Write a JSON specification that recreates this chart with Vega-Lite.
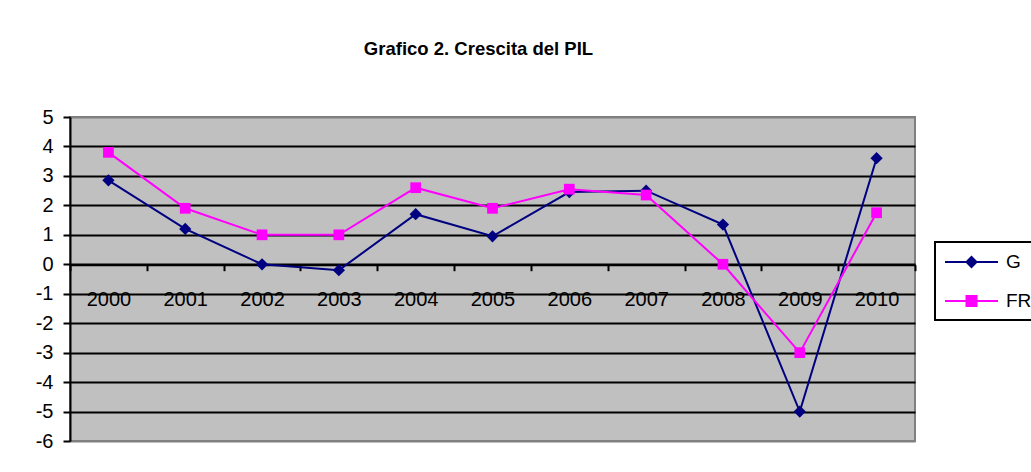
{
  "$schema": "https://vega.github.io/schema/vega-lite/v6.json",
  "autosize": "none",
  "width": 845,
  "height": 324,
  "padding": {"left": 70, "top": 117, "right": 116, "bottom": 31},
  "background": "white",
  "config": {
    "font": "Liberation Sans",
    "view": {"fill": "#C0C0C0", "stroke": "#808080", "strokeWidth": 2}
  },
  "title": {
    "text": "Grafico 2. Crescita del PIL",
    "font": "Liberation Sans",
    "fontSize": 18.5,
    "fontWeight": "bold",
    "color": "black",
    "anchor": "middle",
    "frame": "group",
    "dx": -14,
    "offset": 49
  },
  "data": {
    "values": [
      {"year": "2000", "series": "G", "value": 2.85},
      {"year": "2001", "series": "G", "value": 1.2},
      {"year": "2002", "series": "G", "value": 0.0},
      {"year": "2003", "series": "G", "value": -0.2},
      {"year": "2004", "series": "G", "value": 1.7},
      {"year": "2005", "series": "G", "value": 0.95},
      {"year": "2006", "series": "G", "value": 2.45},
      {"year": "2007", "series": "G", "value": 2.5},
      {"year": "2008", "series": "G", "value": 1.35},
      {"year": "2009", "series": "G", "value": -5.0},
      {"year": "2010", "series": "G", "value": 3.6},
      {"year": "2000", "series": "FR", "value": 3.8},
      {"year": "2001", "series": "FR", "value": 1.9},
      {"year": "2002", "series": "FR", "value": 1.0},
      {"year": "2003", "series": "FR", "value": 1.0},
      {"year": "2004", "series": "FR", "value": 2.6},
      {"year": "2005", "series": "FR", "value": 1.9},
      {"year": "2006", "series": "FR", "value": 2.55},
      {"year": "2007", "series": "FR", "value": 2.35},
      {"year": "2008", "series": "FR", "value": 0.0},
      {"year": "2009", "series": "FR", "value": -3.0},
      {"year": "2010", "series": "FR", "value": 1.75}
    ]
  },
  "encoding": {
    "x": {
      "field": "year",
      "type": "ordinal",
      "scale": {"type": "band", "paddingInner": 0, "paddingOuter": 0},
      "axis": {
        "title": null,
        "orient": "bottom",
        "offset": -176.3,
        "labelAngle": 0,
        "labelFontSize": 20,
        "labelColor": "black",
        "labelPadding": 19,
        "tickBand": "extent",
        "tickColor": "black",
        "tickSize": 6,
        "tickWidth": 2,
        "domainColor": "black",
        "domainWidth": 2,
        "grid": false
      }
    },
    "y": {
      "field": "value",
      "type": "quantitative",
      "scale": {"domain": [-6, 5], "nice": false, "zero": false},
      "axis": {
        "title": null,
        "values": [-6, -5, -4, -3, -2, -1, 0, 1, 2, 3, 4, 5],
        "labelExpr": "'' + datum.value",
        "labelFontSize": 20,
        "labelColor": "black",
        "labelPadding": 10,
        "tickColor": "black",
        "tickSize": 7,
        "tickWidth": 2,
        "domainColor": "black",
        "domainWidth": 2,
        "grid": true,
        "gridWidth": 2,
        "gridOpacity": 1,
        "gridColor": {
          "condition": {"test": "datum.value === 5 || datum.value === -6", "value": "#808080"},
          "value": "black"
        }
      }
    },
    "color": {
      "field": "series",
      "type": "nominal",
      "scale": {"domain": ["G", "FR"], "range": ["#000080", "#FF00FF"]},
      "legend": {
        "title": null,
        "orient": "none",
        "legendX": 865,
        "legendY": 125,
        "padding": 9,
        "strokeColor": "black",
        "fillColor": "white",
        "labelFont": "Liberation Sans",
        "labelFontSize": 19,
        "labelColor": "black",
        "labelOffset": 40,
        "symbolSize": 400,
        "symbolStrokeWidth": 2,
        "symbolOpacity": 1,
        "rowPadding": 18,
        "encode": {
          "legend": {
            "update": {
              "strokeWidth": {"value": 2}
            }
          },
          "symbols": {
            "update": {
              "shape": {"signal": "datum.value === 'G' ? 'M-1,0H4.3M1.65,-0.5L2.15,0L1.65,0.5L1.15,0Z' : 'M-1,0H4.3M1.15,-0.5H2.15V0.5H1.15Z'"},
              "stroke": {"signal": "datum.value === 'G' ? '#000080' : '#FF00FF'"},
              "fill": {"signal": "datum.value === 'G' ? '#000080' : '#FF00FF'"},
              "strokeWidth": {"value": 2},
              "opacity": {"value": 1},
              "fillOpacity": {"value": 1},
              "strokeOpacity": {"value": 1}
            }
          }
        }
      }
    }
  },
  "layer": [
    {
      "mark": {"type": "line", "strokeWidth": 2}
    },
    {
      "transform": [{"filter": "datum.series === 'G'"}],
      "mark": {"type": "point", "shape": "diamond", "size": 150, "filled": true, "opacity": 1}
    },
    {
      "transform": [{"filter": "datum.series === 'FR'"}],
      "mark": {"type": "point", "shape": "square", "size": 115, "filled": true, "opacity": 1}
    }
  ]
}
